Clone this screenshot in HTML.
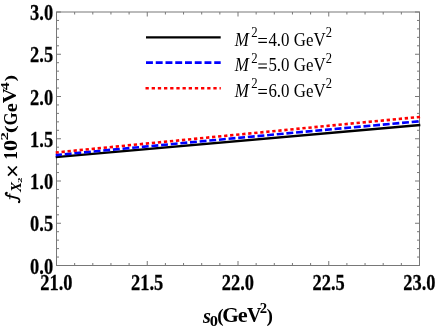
<!DOCTYPE html>
<html><head><meta charset="utf-8"><title>plot</title>
<style>
html,body{margin:0;padding:0;background:#fff;}
body{width:436px;height:327px;overflow:hidden;}
svg{display:block;will-change:transform;}
text{font-family:"Liberation Serif",serif;fill:#000;}
.b{font-weight:bold;}
.tk{font-weight:bold;stroke:#000;stroke-width:0.22px;}
.i{font-style:italic;}
.bi{font-weight:bold;font-style:italic;}
</style></head><body>
<svg width="436" height="327" viewBox="0 0 436 327">
<rect x="0" y="0" width="436" height="327" fill="#fff"/>

<g stroke="#787878" stroke-width="1" fill="none">
<rect x="56.5" y="12.0" width="363.00" height="253.50"/>
<path d="M56.50 265.5 v-4.5 M56.50 12.0 v4.5"/>
<path d="M74.65 265.5 v-2.5 M74.65 12.0 v2.5"/>
<path d="M92.80 265.5 v-2.5 M92.80 12.0 v2.5"/>
<path d="M110.95 265.5 v-2.5 M110.95 12.0 v2.5"/>
<path d="M129.10 265.5 v-2.5 M129.10 12.0 v2.5"/>
<path d="M147.25 265.5 v-4.5 M147.25 12.0 v4.5"/>
<path d="M165.40 265.5 v-2.5 M165.40 12.0 v2.5"/>
<path d="M183.55 265.5 v-2.5 M183.55 12.0 v2.5"/>
<path d="M201.70 265.5 v-2.5 M201.70 12.0 v2.5"/>
<path d="M219.85 265.5 v-2.5 M219.85 12.0 v2.5"/>
<path d="M238.00 265.5 v-4.5 M238.00 12.0 v4.5"/>
<path d="M256.15 265.5 v-2.5 M256.15 12.0 v2.5"/>
<path d="M274.30 265.5 v-2.5 M274.30 12.0 v2.5"/>
<path d="M292.45 265.5 v-2.5 M292.45 12.0 v2.5"/>
<path d="M310.60 265.5 v-2.5 M310.60 12.0 v2.5"/>
<path d="M328.75 265.5 v-4.5 M328.75 12.0 v4.5"/>
<path d="M346.90 265.5 v-2.5 M346.90 12.0 v2.5"/>
<path d="M365.05 265.5 v-2.5 M365.05 12.0 v2.5"/>
<path d="M383.20 265.5 v-2.5 M383.20 12.0 v2.5"/>
<path d="M401.35 265.5 v-2.5 M401.35 12.0 v2.5"/>
<path d="M419.50 265.5 v-4.5 M419.50 12.0 v4.5"/>
<path d="M56.5 265.50 h4.5 M419.5 265.50 h-4.5"/>
<path d="M56.5 257.05 h2.5 M419.5 257.05 h-2.5"/>
<path d="M56.5 248.60 h2.5 M419.5 248.60 h-2.5"/>
<path d="M56.5 240.15 h2.5 M419.5 240.15 h-2.5"/>
<path d="M56.5 231.70 h2.5 M419.5 231.70 h-2.5"/>
<path d="M56.5 223.25 h4.5 M419.5 223.25 h-4.5"/>
<path d="M56.5 214.80 h2.5 M419.5 214.80 h-2.5"/>
<path d="M56.5 206.35 h2.5 M419.5 206.35 h-2.5"/>
<path d="M56.5 197.90 h2.5 M419.5 197.90 h-2.5"/>
<path d="M56.5 189.45 h2.5 M419.5 189.45 h-2.5"/>
<path d="M56.5 181.00 h4.5 M419.5 181.00 h-4.5"/>
<path d="M56.5 172.55 h2.5 M419.5 172.55 h-2.5"/>
<path d="M56.5 164.10 h2.5 M419.5 164.10 h-2.5"/>
<path d="M56.5 155.65 h2.5 M419.5 155.65 h-2.5"/>
<path d="M56.5 147.20 h2.5 M419.5 147.20 h-2.5"/>
<path d="M56.5 138.75 h4.5 M419.5 138.75 h-4.5"/>
<path d="M56.5 130.30 h2.5 M419.5 130.30 h-2.5"/>
<path d="M56.5 121.85 h2.5 M419.5 121.85 h-2.5"/>
<path d="M56.5 113.40 h2.5 M419.5 113.40 h-2.5"/>
<path d="M56.5 104.95 h2.5 M419.5 104.95 h-2.5"/>
<path d="M56.5 96.50 h4.5 M419.5 96.50 h-4.5"/>
<path d="M56.5 88.05 h2.5 M419.5 88.05 h-2.5"/>
<path d="M56.5 79.60 h2.5 M419.5 79.60 h-2.5"/>
<path d="M56.5 71.15 h2.5 M419.5 71.15 h-2.5"/>
<path d="M56.5 62.70 h2.5 M419.5 62.70 h-2.5"/>
<path d="M56.5 54.25 h4.5 M419.5 54.25 h-4.5"/>
<path d="M56.5 45.80 h2.5 M419.5 45.80 h-2.5"/>
<path d="M56.5 37.35 h2.5 M419.5 37.35 h-2.5"/>
<path d="M56.5 28.90 h2.5 M419.5 28.90 h-2.5"/>
<path d="M56.5 20.45 h2.5 M419.5 20.45 h-2.5"/>
<path d="M56.5 12.00 h4.5 M419.5 12.00 h-4.5"/>
</g>
<path d="M55.70 157.10 Q238.00 140.55 420.30 125.00" stroke="#000" stroke-width="2.4" fill="none"/>
<path d="M55.70 155.10 Q238.00 137.65 420.30 121.20" stroke="#0000ff" stroke-width="2.6" fill="none" stroke-dasharray="6.9 2.78" stroke-dashoffset="0.63"/>
<path d="M55.70 152.50 Q238.00 134.50 420.30 116.90" stroke="#ff0000" stroke-width="2.6" fill="none" stroke-dasharray="3.3 2.75" stroke-dashoffset="0.2"/>
<path d="M146 37.35 H220.7" stroke="#000" stroke-width="2.3"/>
<path d="M146 62.6 H220.7" stroke="#0000ff" stroke-width="2.6" stroke-dasharray="6.9 2.85"/>
<path d="M145.5 88.3 H220.8" stroke="#ff0000" stroke-width="2.6" stroke-dasharray="3.3 2.87"/>
<text class="i" transform="translate(234.77,45.50) scale(0.1697,0.1846)" font-size="100">M</text>
<text transform="translate(251.33,37.40) scale(0.1275,0.1394)" font-size="100">2</text>
<path d="M258.3 38.50 H266.9 M258.3 42.40 H266.9" stroke="#000" stroke-width="1.15" fill="none"/>
<text transform="translate(268.43,45.70) scale(0.1690,0.1850)" font-size="100">4.0 GeV</text>
<text transform="translate(325.74,37.20) scale(0.1250,0.1455)" font-size="100">2</text>
<text class="i" transform="translate(234.77,71.00) scale(0.1697,0.1846)" font-size="100">M</text>
<text transform="translate(251.33,62.90) scale(0.1275,0.1394)" font-size="100">2</text>
<path d="M258.3 64.00 H266.9 M258.3 67.90 H266.9" stroke="#000" stroke-width="1.15" fill="none"/>
<text transform="translate(268.43,71.20) scale(0.1690,0.1850)" font-size="100">5.0 GeV</text>
<text transform="translate(325.74,62.70) scale(0.1250,0.1455)" font-size="100">2</text>
<text class="i" transform="translate(234.77,96.50) scale(0.1697,0.1846)" font-size="100">M</text>
<text transform="translate(251.33,88.40) scale(0.1275,0.1394)" font-size="100">2</text>
<path d="M258.3 89.50 H266.9 M258.3 93.40 H266.9" stroke="#000" stroke-width="1.15" fill="none"/>
<text transform="translate(268.43,96.70) scale(0.1690,0.1850)" font-size="100">6.0 GeV</text>
<text transform="translate(325.74,88.20) scale(0.1250,0.1455)" font-size="100">2</text>
<text class="tk" transform="translate(53.10,273.50) scale(0.9700,1.1600)" font-size="19" text-anchor="end">0.0</text>
<text class="tk" transform="translate(53.10,231.25) scale(0.9700,1.1600)" font-size="19" text-anchor="end">0.5</text>
<text class="tk" transform="translate(53.10,189.00) scale(0.9700,1.1600)" font-size="19" text-anchor="end">1.0</text>
<text class="tk" transform="translate(53.10,146.75) scale(0.9700,1.1600)" font-size="19" text-anchor="end">1.5</text>
<text class="tk" transform="translate(53.10,104.50) scale(0.9700,1.1600)" font-size="19" text-anchor="end">2.0</text>
<text class="tk" transform="translate(53.10,62.25) scale(0.9700,1.1600)" font-size="19" text-anchor="end">2.5</text>
<text class="tk" transform="translate(53.10,20.00) scale(0.9700,1.1600)" font-size="19" text-anchor="end">3.0</text>
<text class="tk" transform="translate(56.40,289.50) scale(0.9700,1.1600)" font-size="19" text-anchor="middle">21.0</text>
<text class="tk" transform="translate(147.15,289.50) scale(0.9700,1.1600)" font-size="19" text-anchor="middle">21.5</text>
<text class="tk" transform="translate(237.90,289.50) scale(0.9700,1.1600)" font-size="19" text-anchor="middle">22.0</text>
<text class="tk" transform="translate(328.65,289.50) scale(0.9700,1.1600)" font-size="19" text-anchor="middle">22.5</text>
<text class="tk" transform="translate(419.40,289.50) scale(0.9700,1.1600)" font-size="19" text-anchor="middle">23.0</text>
<text class="bi" transform="translate(203.00,322.54) scale(0.2027,0.2115)" font-size="100">s</text>
<text class="b" transform="translate(209.84,326.35) scale(0.1655,0.1481)" font-size="100">0</text>
<text class="b" transform="translate(217.14,321.73) scale(0.1922,0.1844)" font-size="100">(</text>
<text class="b" transform="translate(222.24,322.39) scale(0.2129,0.2119)" font-size="100">G</text>
<text class="b" transform="translate(237.82,322.39) scale(0.2234,0.2083)" font-size="100">e</text>
<text class="b" transform="translate(246.90,322.28) scale(0.1986,0.2120)" font-size="100">V</text>
<text class="b" transform="translate(259.81,313.00) scale(0.1470,0.1485)" font-size="100">2</text>
<text class="b" transform="translate(266.62,321.60) scale(0.1923,0.1856)" font-size="100">)</text>
<g transform="translate(16.50,200.03) rotate(-90) scale(0.01810,0.01608)"><path d="M400 -615 C 395 -700, 285 -715, 248 -560 L 100 55 C 65 195, -50 225, -120 160" stroke="#000" stroke-width="100" fill="none" stroke-linecap="round"/><circle cx="392" cy="-610" r="62" fill="#000"/><circle cx="-112" cy="152" r="62" fill="#000"/><path d="M45 -415 H355" stroke="#000" stroke-width="60" fill="none"/></g>
<text class="bi" transform="translate(20.60,192.12) rotate(-90) scale(0.1507,0.1369)" font-size="100">X</text>
<text class="b" transform="translate(22.00,183.04) rotate(-90) scale(0.1108,0.0667)" font-size="100">2</text>
<text class="b" transform="translate(16.50,159.78) rotate(-90) scale(0.1730,0.1863)" font-size="100">1</text>
<text class="b" transform="translate(16.52,151.10) rotate(-90) scale(0.2238,0.1837)" font-size="100">0</text>
<text class="b" transform="translate(8.30,140.57) rotate(-90) scale(0.1687,0.1106)" font-size="100">2</text>
<text class="b" transform="translate(15.37,133.19) rotate(-90) scale(0.2431,0.1489)" font-size="100">(</text>
<text class="b" transform="translate(16.71,125.33) rotate(-90) scale(0.1657,0.1881)" font-size="100">G</text>
<text class="b" transform="translate(16.51,112.32) rotate(-90) scale(0.2052,0.1896)" font-size="100">e</text>
<text class="b" transform="translate(16.42,103.21) rotate(-90) scale(0.2086,0.1835)" font-size="100">V</text>
<text class="b" transform="translate(9.30,90.24) rotate(-90) scale(0.1591,0.1282)" font-size="100">4</text>
<text class="b" transform="translate(15.37,81.40) rotate(-90) scale(0.2000,0.1489)" font-size="100">)</text>
<path d="M8 166.5 L16.9 175.7 M16.9 166.5 L8 175.7" stroke="#000" stroke-width="1.7" fill="none"/>
</svg></body></html>
